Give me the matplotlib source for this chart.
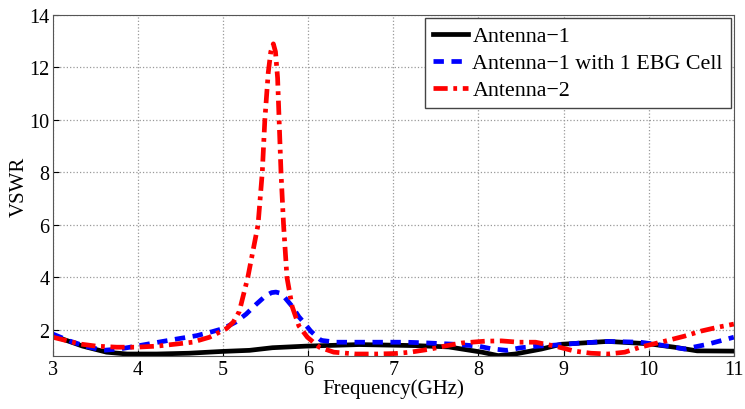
import matplotlib.pyplot as plt
import numpy as np

plt.rcParams['font.family'] = ['Liberation Serif', 'DejaVu Serif']

# VSWR vs frequency
f_ant1 = [3.0, 3.35, 3.63, 3.87, 4.22, 4.6, 5.0, 5.31, 5.58, 5.97, 6.6, 7.26, 7.65,
          8.04, 8.23, 8.43, 8.74, 8.97, 9.52, 10.0, 10.3, 10.57, 11.0]
v_ant1 = [1.78, 1.38, 1.15, 1.08, 1.08, 1.11, 1.18, 1.22, 1.32, 1.38, 1.44, 1.4, 1.35,
          1.15, 1.02, 1.08, 1.27, 1.45, 1.56, 1.47, 1.34, 1.2, 1.19]

f_ebg = [3.0, 3.2, 3.4, 3.59, 3.78, 3.98, 4.22, 4.45, 4.69, 4.87, 5.0, 5.15, 5.27, 5.39,
         5.5, 5.57, 5.62, 5.67, 5.72, 5.81, 5.89, 5.93, 6.03, 6.15, 6.33, 6.8, 7.15, 7.41,
         7.73, 8.0, 8.15, 8.33, 8.5, 8.7, 8.9, 9.05, 9.2, 9.52, 9.9, 10.19, 10.42, 10.69,
         11.0]
v_ebg = [1.84, 1.57, 1.36, 1.22, 1.27, 1.38, 1.52, 1.65, 1.78, 1.93, 2.05, 2.3, 2.6, 2.98,
         3.3, 3.42, 3.44, 3.4, 3.25, 2.9, 2.5, 2.35, 1.95, 1.6, 1.53, 1.53, 1.53, 1.5,
         1.45, 1.38, 1.28, 1.22, 1.32, 1.38, 1.42, 1.46, 1.5, 1.56, 1.53, 1.4, 1.27, 1.45,
         1.72]

f_ant2 = [3.0, 3.32, 3.51, 3.75, 3.98, 4.22, 4.45, 4.64, 4.84, 5.04, 5.12, 5.19, 5.29,
          5.41, 5.46, 5.49, 5.53, 5.56, 5.59, 5.615, 5.64, 5.68, 5.71, 5.75, 5.81, 5.89,
          5.99, 6.13, 6.3, 6.56, 6.8, 7.03, 7.2, 7.44, 7.6, 7.8, 8.08, 8.27, 8.47, 8.67,
          8.9, 9.13, 9.32, 9.52, 9.72, 9.9, 10.19, 10.42, 10.61, 10.81, 11.0]
v_ant2 = [1.72, 1.46, 1.38, 1.34, 1.34, 1.38, 1.46, 1.53, 1.72, 2.05, 2.3, 2.7, 4.0,
          6.0, 8.0, 10.0, 11.8, 12.6, 12.9, 12.6, 11.6, 8.0, 6.0, 4.0, 2.9, 2.15, 1.72,
          1.34, 1.15, 1.08, 1.08, 1.1, 1.15, 1.27, 1.38, 1.5, 1.57, 1.58, 1.53, 1.53, 1.38,
          1.19, 1.11, 1.08, 1.15, 1.34, 1.57, 1.76, 1.95, 2.1, 2.22]

fig = plt.figure(figsize=(7.45, 4.1), dpi=100)
ax = fig.add_axes([0.071, 0.129, 0.914, 0.832])

ax.plot(f_ant1, v_ant1, color='black', lw=3.4, label='Antenna\u22121')
ax.plot(f_ebg, v_ebg, color='blue', lw=3.4, linestyle=(0, (2.2, 1.6)),
        label='Antenna\u22121 with 1 EBG Cell')
ax.plot(f_ant2, v_ant2, color='red', lw=3.4, linestyle=(0, (3, 1.2, 0.8, 1.2)),
        label='Antenna\u22122')

ax.set_xlim(3, 11)
ax.set_ylim(1, 14)
ax.set_xticks(np.arange(3, 12, 1))
ax.set_yticks(np.arange(2, 15, 2))
ax.tick_params(direction='in', labelsize=14.5, length=4, pad=2.5, top=False, right=False)
ax.grid(True, linestyle=':', color='#999999', linewidth=0.9)
for s in ax.spines.values():
    s.set_color('#555555')

ax.set_xlabel('Frequency(GHz)', fontsize=15, labelpad=0)
ax.set_ylabel('VSWR', fontsize=15, labelpad=0)

leg = ax.legend(loc='upper right', fontsize=15.8, fancybox=False, framealpha=1,
                edgecolor='#444444', handlelength=1.6, handletextpad=0.2,
                borderpad=0.35, labelspacing=0.3, borderaxespad=0.15)
leg.get_frame().set_linewidth(1.0)

fig.savefig('out.png', dpi=100)
